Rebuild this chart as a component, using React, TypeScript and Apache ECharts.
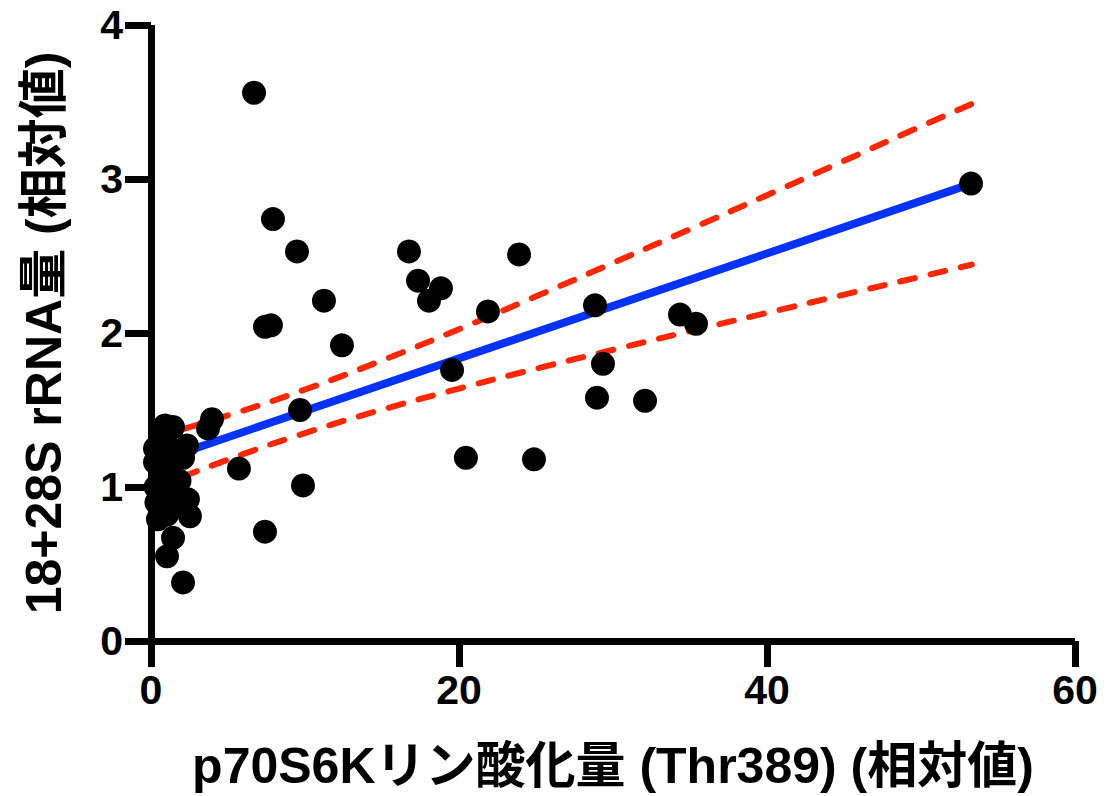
import React, { useEffect, useRef } from "react";
import * as echarts from "echarts";

// Scatter data (p70S6K phosphorylation vs 18+28S rRNA)
const pointX = [
  6.69, 7.92, 9.48, 7.40, 7.79, 11.23, 12.40, 9.68, 9.87, 7.40, 5.71, 3.96, 3.70,
  16.75, 17.34, 18.05, 18.83, 21.88, 19.55, 20.45, 23.9, 24.87, 28.83, 28.96, 29.35,
  32.08, 34.35, 35.39, 53.25,
  0.91, 1.43, 2.34, 2.08, 0.26, 0.26, 0.91, 1.23, 0.58, 1.36, 0.71, 2.40, 2.53, 1.04,
  1.43, 1.04, 2.08, 0.45, 1.62, 0.58, 1.0, 1.85, 0.3, 1.75, 0.35,
];
const pointY = [
  3.56, 2.74, 2.53, 2.04, 2.05, 2.21, 1.92, 1.50, 1.01, 0.71, 1.12, 1.44, 1.38,
  2.53, 2.34, 2.21, 2.29, 2.14, 1.76, 1.19, 2.51, 1.18, 2.18, 1.58, 1.80,
  1.56, 2.12, 2.06, 2.97,
  1.40, 1.39, 1.27, 1.19, 1.25, 1.16, 1.31, 1.11, 1.05, 0.98, 0.92, 0.92, 0.81, 0.82,
  0.67, 0.55, 0.38, 0.79, 1.18, 1.35, 1.22, 1.04, 1.0, 0.88, 0.9,
];

// Regression line end points
const fitX = [0.2, 53.3];
const fitY = [1.16, 2.97];

// 95% confidence band
const bandX = [0.2, 5, 10, 15, 20, 25, 30, 35, 40, 45, 50, 53.3];
const bandUpper = [1.322, 1.465, 1.633, 1.822, 2.025, 2.238, 2.455, 2.674, 2.895, 3.118, 3.342, 3.488];
const bandLower = [0.994, 1.178, 1.35, 1.502, 1.639, 1.768, 1.891, 2.012, 2.131, 2.249, 2.366, 2.444];

const xTicks = { min: 0, max: 60, interval: 20 };
const yTicks = { min: 0, max: 4, interval: 1 };

const xTitle = "p70S6Kリン酸化量 (Thr389) (相対値)";
const yTitle = "18+28S rRNA量 (相対値)";

const FONT = '"Liberation Sans", Arial, Helvetica, "Noto Sans CJK JP", sans-serif';
const BLUE = "#0433ff";
const RED = "#ff2600";

export default function App() {
  const ref = useRef<HTMLDivElement>(null);

  useEffect(() => {
    document.body.style.margin = "0";
    if (!ref.current) return;
    const chart = echarts.init(ref.current, undefined, { renderer: "svg" });

    const scatter = pointX.map((x, i) => [x, pointY[i]]);
    const fit = fitX.map((x, i) => [x, fitY[i]]);
    const upper = bandX.map((x, i) => [x, bandUpper[i]]);
    const lower = bandX.map((x, i) => [x, bandLower[i]]);

    const axisCommon = {
      axisLine: { show: true, lineStyle: { color: "#000", width: 7, cap: "butt" } },
      axisTick: { show: true, length: 26, lineStyle: { color: "#000", width: 7 } },
      splitLine: { show: false },
      axisLabel: {
        color: "#000",
        fontFamily: FONT,
        fontWeight: "bold",
        fontSize: 41,
      },
      nameTextStyle: {
        color: "#000",
        fontFamily: FONT,
        fontWeight: "bold",
        fontSize: 50,
      },
    };

    chart.setOption({
      animation: false,
      backgroundColor: "#fff",
      grid: { left: 151, right: 33, top: 25, bottom: 155, containLabel: false },
      xAxis: {
        type: "value",
        ...xTicks,
        ...axisCommon,
        axisLabel: { ...axisCommon.axisLabel, margin: 28, showMinLabel: true, showMaxLabel: true },
        name: xTitle,
        nameLocation: "middle",
        nameGap: 100,
      },
      yAxis: {
        type: "value",
        ...yTicks,
        ...axisCommon,
        axisLabel: { ...axisCommon.axisLabel, margin: 28 },
        name: yTitle,
        nameLocation: "middle",
        nameGap: 82,
      },
      series: [
        {
          type: "line",
          data: fit,
          showSymbol: false,
          symbol: "none",
          lineStyle: { color: BLUE, width: 8 },
          z: 2,
        },
        {
          type: "line",
          data: upper,
          showSymbol: false,
          symbol: "none",
          smooth: true,
          lineStyle: { color: RED, width: 6, type: [15, 16], cap: "round" },
          z: 3,
        },
        {
          type: "line",
          data: lower,
          showSymbol: false,
          symbol: "none",
          smooth: true,
          lineStyle: { color: RED, width: 6, type: [15, 16], cap: "round" },
          z: 3,
        },
        {
          type: "scatter",
          data: scatter,
          symbol: "circle",
          symbolSize: 24,
          itemStyle: { color: "#000", opacity: 1 },
          z: 5,
        },
      ],
    });

    return () => chart.dispose();
  }, []);

  return <div ref={ref} style={{ width: 1108, height: 796 }} />;
}
